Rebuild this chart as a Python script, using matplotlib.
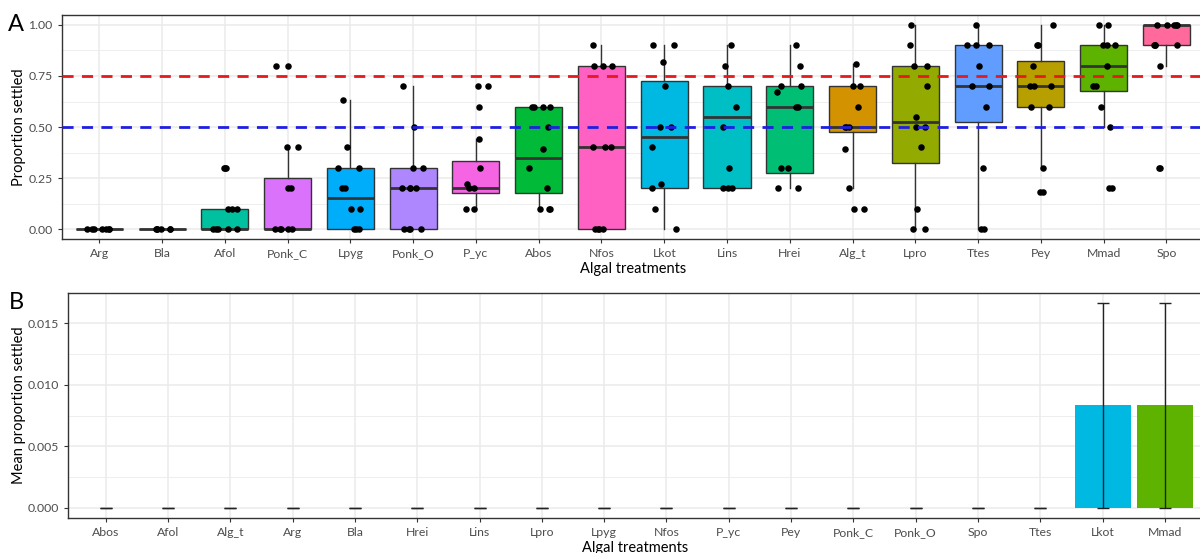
import numpy as np
import matplotlib
matplotlib.use("Agg")
import matplotlib.pyplot as plt

plt.rcParams['font.family'] = ['Lato', 'DejaVu Sans']

# ---------------- panel A data ----------------
cats_a = ["Arg", "Bla", "Afol", "Ponk_C", "Lpyg", "Ponk_O", "P_yc", "Abos", "Nfos",
          "Lkot", "Lins", "Hrei", "Alg_t", "Lpro", "Ttes", "Pey", "Mmad", "Spo"]

pts_arg = [0, 0, 0, 0, 0, 0, 0]
pts_bla = [0, 0, 0, 0, 0, 0]
pts_afol = [0.3, 0.3, 0.3, 0.1, 0.1, 0.1, 0, 0, 0, 0, 0]
pts_ponk_c = [0.8, 0.8, 0.4, 0.4, 0.2, 0.2, 0, 0, 0, 0, 0]
pts_lpyg = [0.63, 0.4, 0.3, 0.3, 0.2, 0.2, 0.1, 0.1, 0, 0, 0]
pts_ponk_o = [0.7, 0.5, 0.3, 0.3, 0.2, 0.2, 0.2, 0.2, 0, 0, 0, 0]
pts_p_yc = [0.7, 0.7, 0.6, 0.44, 0.3, 0.22, 0.2, 0.2, 0.1, 0.1]
pts_abos = [0.6, 0.6, 0.6, 0.6, 0.5, 0.39, 0.3, 0.2, 0.1, 0.1, 0.1]
pts_nfos = [0.9, 0.8, 0.8, 0.8, 0.4, 0.4, 0.4, 0, 0, 0, 0]
pts_lkot = [0.9, 0.9, 0.82, 0.7, 0.5, 0.5, 0.4, 0.22, 0.2, 0.1, 0]
pts_lins = [0.9, 0.8, 0.7, 0.6, 0.5, 0.3, 0.2, 0.2, 0.2]
pts_hrei = [0.9, 0.8, 0.7, 0.7, 0.67, 0.6, 0.6, 0.3, 0.3, 0.2, 0.2]
pts_alg_t = [0.81, 0.7, 0.7, 0.6, 0.5, 0.5, 0.5, 0.39, 0.2, 0.1, 0.1]
pts_lpro = [1.0, 0.9, 0.8, 0.8, 0.7, 0.55, 0.5, 0.5, 0.4, 0.1, 0, 0]
pts_ttes = [1.0, 0.9, 0.9, 0.9, 0.8, 0.7, 0.7, 0.6, 0.3, 0, 0]
pts_pey = [1.0, 0.9, 0.9, 0.8, 0.7, 0.7, 0.7, 0.6, 0.6, 0.3, 0.18, 0.18]
pts_mmad = [1.0, 1.0, 0.9, 0.9, 0.9, 0.8, 0.7, 0.7, 0.6, 0.5, 0.2, 0.2]
pts_spo = [1.0, 1.0, 1.0, 1.0, 1.0, 0.9, 0.9, 0.9, 0.9, 0.8, 0.3, 0.3]

points_a = [pts_arg, pts_bla, pts_afol, pts_ponk_c, pts_lpyg, pts_ponk_o, pts_p_yc,
            pts_abos, pts_nfos, pts_lkot, pts_lins, pts_hrei, pts_alg_t, pts_lpro,
            pts_ttes, pts_pey, pts_mmad, pts_spo]

box_q1 = [0, 0, 0, 0, 0, 0, 0.175, 0.175, 0, 0.2, 0.2, 0.275, 0.475, 0.325, 0.525, 0.6, 0.675, 0.9]
box_med = [0, 0, 0, 0, 0.15, 0.2, 0.2, 0.35, 0.4, 0.45, 0.55, 0.6, 0.5, 0.525, 0.7, 0.7, 0.8, 1.0]
box_q3 = [0, 0, 0.1, 0.25, 0.3, 0.3, 0.333, 0.6, 0.8, 0.725, 0.7, 0.7, 0.7, 0.8, 0.9, 0.825, 0.9, 1.0]
whis_lo = [0, 0, 0, 0, 0, 0, 0.1, 0.1, 0, 0, 0.2, 0.2, 0.2, 0, 0, 0.3, 0.5, 0.8]
whis_hi = [0, 0, 0.1, 0.4, 0.63, 0.7, 0.44, 0.6, 0.9, 0.9, 0.9, 0.9, 0.81, 1.0, 1.0, 1.0, 1.0, 1.0]

# ggplot default hue palette (18 levels, alphabetical)
pal = {"Abos": "#00BA38", "Afol": "#00C19F", "Alg_t": "#D39200", "Arg": "#F8766D",
       "Bla": "#E88526", "Hrei": "#00BF74", "Lins": "#00BFC4", "Lkot": "#00B9E3",
       "Lpro": "#93AA00", "Lpyg": "#00ADFA", "Mmad": "#5EB300", "Nfos": "#FF61C3",
       "P_yc": "#F564E3", "Pey": "#B79F00", "Ponk_C": "#DB72FB", "Ponk_O": "#AE87FF",
       "Spo": "#FF699C", "Ttes": "#619CFF"}

# ---------------- panel B data ----------------
cats_b = ["Abos", "Afol", "Alg_t", "Arg", "Bla", "Hrei", "Lins", "Lpro", "Lpyg", "Nfos",
          "P_yc", "Pey", "Ponk_C", "Ponk_O", "Spo", "Ttes", "Lkot", "Mmad"]
mean_b = [0] * 16 + [0.00833, 0.00833]
se_b = [0] * 16 + [0.00833, 0.00833]

GRID = "#EBEBEB"
DARK = "#333333"
TXT = "#4D4D4D"


def style_axes(ax):
    ax.set_facecolor("white")
    for s in ax.spines.values():
        s.set_color(DARK)
        s.set_linewidth(1.0)
    ax.grid(True, which="major", color=GRID, lw=1.1)
    ax.grid(True, which="minor", axis="y", color=GRID, lw=0.6)
    ax.set_axisbelow(True)
    ax.tick_params(which="major", length=3, width=0.8, color=DARK, labelcolor=TXT, labelsize=8.8)
    ax.tick_params(which="minor", length=0)


fig = plt.figure(figsize=(12, 5.53), dpi=100)

# ---- A: boxplots with jittered points ----
axA = fig.add_axes([0.0514, 0.5673, 0.952, 0.406])
x_a = np.arange(1, len(cats_a) + 1)
stats = []
for i in range(len(cats_a)):
    stats.append(dict(med=box_med[i], q1=box_q1[i], q3=box_q3[i],
                      whislo=whis_lo[i], whishi=whis_hi[i], fliers=[]))
bp = axA.bxp(stats, positions=x_a, widths=0.75, patch_artist=True, showcaps=False,
             boxprops=dict(edgecolor=DARK, linewidth=1.0),
             whiskerprops=dict(color=DARK, linewidth=1.0),
             medianprops=dict(color=DARK, linewidth=2.0), manage_ticks=False)
for patch, name in zip(bp["boxes"], cats_a):
    patch.set_facecolor(pal[name])

# horizontal jitter only (like geom_jitter), values stay as read
rng = np.random.default_rng(7)
for xi, vals in zip(x_a, points_a):
    jit = rng.uniform(-0.2, 0.2, len(vals))
    axA.scatter(xi + jit, vals, s=22, color="black", zorder=3, linewidths=0)

axA.axhline(0.75, color="#E41A1C", lw=2, dashes=(4, 3), zorder=4)
axA.axhline(0.5, color="#1F1FE0", lw=2, dashes=(4, 3), zorder=4)

axA.set_xlim(0.4, len(cats_a) + 0.6)
axA.set_ylim(-0.05, 1.05)
axA.set_yticks([0, 0.25, 0.5, 0.75, 1.0])
axA.set_yticklabels(["0.00", "0.25", "0.50", "0.75", "1.00"])
axA.set_yticks([0.125, 0.375, 0.625, 0.875], minor=True)
axA.set_xticks(x_a)
axA.set_xticklabels(cats_a)
style_axes(axA)
axA.set_xlabel("Algal treatments", fontsize=10.5, labelpad=2)
axA.set_ylabel("Proportion settled", fontsize=10.5)
axA.yaxis.set_label_coords(-0.031, 0.5)
fig.text(0.007, 0.975, "A", fontsize=17, va="top", ha="left")

# ---- B: mean bars with error bars ----
axB = fig.add_axes([0.0569, 0.0634, 0.945, 0.4075])
x_b = np.arange(1, len(cats_b) + 1)
bar_cols = [pal[c] for c in cats_b]
axB.bar(x_b, mean_b, width=0.9, color=bar_cols, edgecolor="none", zorder=2)
axB.errorbar(x_b, mean_b, yerr=se_b, fmt="none", ecolor="#222222", elinewidth=1,
             capsize=4.5, capthick=1, zorder=3)
axB.set_xlim(0.4, len(cats_b) + 0.6)
axB.set_ylim(-0.000833, 0.0175)
axB.set_yticks([0, 0.005, 0.010, 0.015])
axB.set_yticklabels(["0.000", "0.005", "0.010", "0.015"])
axB.set_yticks([0.0025, 0.0075, 0.0125], minor=True)
axB.set_xticks(x_b)
axB.set_xticklabels(cats_b)
style_axes(axB)
axB.set_xlabel("Algal treatments", fontsize=10.5, labelpad=2)
axB.set_ylabel("Mean proportion settled", fontsize=10.5)
axB.yaxis.set_label_coords(-0.0373, 0.5)
fig.text(0.007, 0.472, "B", fontsize=17, va="top", ha="left")

fig.savefig("out.png", dpi=100)
